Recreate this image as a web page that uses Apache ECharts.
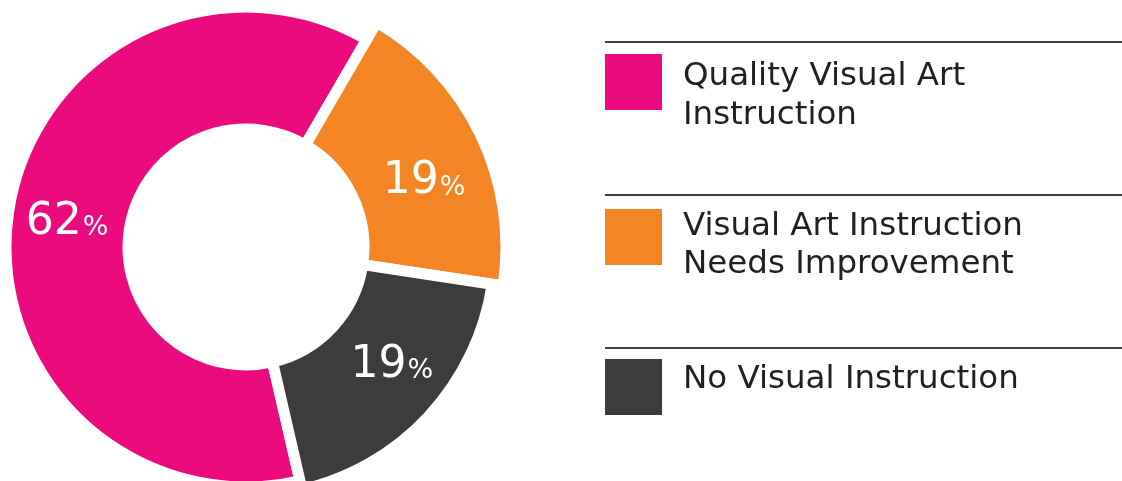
<!DOCTYPE html>
<html>
<head>
<meta charset="utf-8">
<title>Visual Art Instruction</title>
<script src="https://cdn.jsdelivr.net/npm/echarts@6/dist/echarts.min.js"></script>
<style>
  html, body { margin: 0; padding: 0; background: #ffffff; }
  #chart { width: 1122px; height: 481px; }
</style>
</head>
<body>
<div id="chart"></div>
<script>
// Categories, shares (percent) and the wrapped legend text
const categories = [
  'Quality Visual Art Instruction',
  'Visual Art Instruction Needs Improvement',
  'No Visual Instruction'
];
const shares = [62, 19, 19];
const legendLines = [
  ['Quality Visual Art', 'Instruction'],
  ['Visual Art Instruction', 'Needs Improvement'],
  ['No Visual Instruction']
];

// Styling
const colors = ['#EC0A7F', '#F38524', '#3D3B3C'];
const outerRadius = [240, 260, 249];   // each ring segment has its own outer radius
const innerRadius = 118;
const labelOffsets = [[1, 3], [5, 18], [9, -8]];
const CENTER = [246, 247];
const FONT = '"DejaVu Sans", "Noto Sans", sans-serif';

const chart = echarts.init(document.getElementById('chart'), null, { renderer: 'canvas' });

// One pie series per segment so every segment can carry its own radius;
// all series share the same data, only their own segment is painted.
const series = categories.map((_, k) => ({
  type: 'pie',
  center: CENTER,
  radius: [innerRadius, outerRadius[k]],
  startAngle: -77,
  clockwise: true,
  silent: true,
  animation: false,
  avoidLabelOverlap: false,
  labelLine: { show: false },
  emphasis: { disabled: true },
  data: categories.map((name, i) => ({
    name,
    value: shares[i],
    itemStyle: i === k
      ? { color: colors[i], borderColor: '#ffffff', borderWidth: 11, borderJoin: 'miter' }
      : { color: 'rgba(0,0,0,0)', borderWidth: 0 },
    label: { show: i === k, offset: labelOffsets[i] }
  })),
  label: {
    position: 'inside',
    formatter: p => '{n|' + p.value + '}{p|%}',
    rich: {
      n: { fontFamily: FONT, fontSize: 44, color: '#ffffff', fontWeight: 'normal', verticalAlign: 'bottom' },
      p: { fontFamily: FONT, fontSize: 27, color: '#ffffff', fontWeight: 'normal', verticalAlign: 'bottom', padding: [0, 0, 3, 1] }
    }
  }
}));

// Legend: separator rules, colour swatches and wrapped labels
const ruleY = [42, 195, 348];
const swatchY = [54, 209, 359];
const lineCenters = [[77, 116], [227, 265], [380]];
const graphic = [];
categories.forEach((_, i) => {
  graphic.push({
    type: 'line',
    shape: { x1: 605, y1: ruleY[i], x2: 1122, y2: ruleY[i] },
    style: { stroke: '#3f3f3f', lineWidth: 2 }
  });
  graphic.push({
    type: 'rect',
    shape: { x: 605, y: swatchY[i], width: 57, height: 56 },
    style: { fill: colors[i] }
  });
  legendLines[i].forEach((t, j) => {
    graphic.push({
      type: 'text',
      x: 683,
      y: lineCenters[i][j],
      style: {
        text: t,
        fill: '#231F20',
        font: 'normal 32.5px ' + FONT,
        textAlign: 'left',
        textVerticalAlign: 'middle'
      }
    });
  });
});

chart.setOption({
  backgroundColor: '#ffffff',
  animation: false,
  series,
  graphic
});
</script>
</body>
</html>
